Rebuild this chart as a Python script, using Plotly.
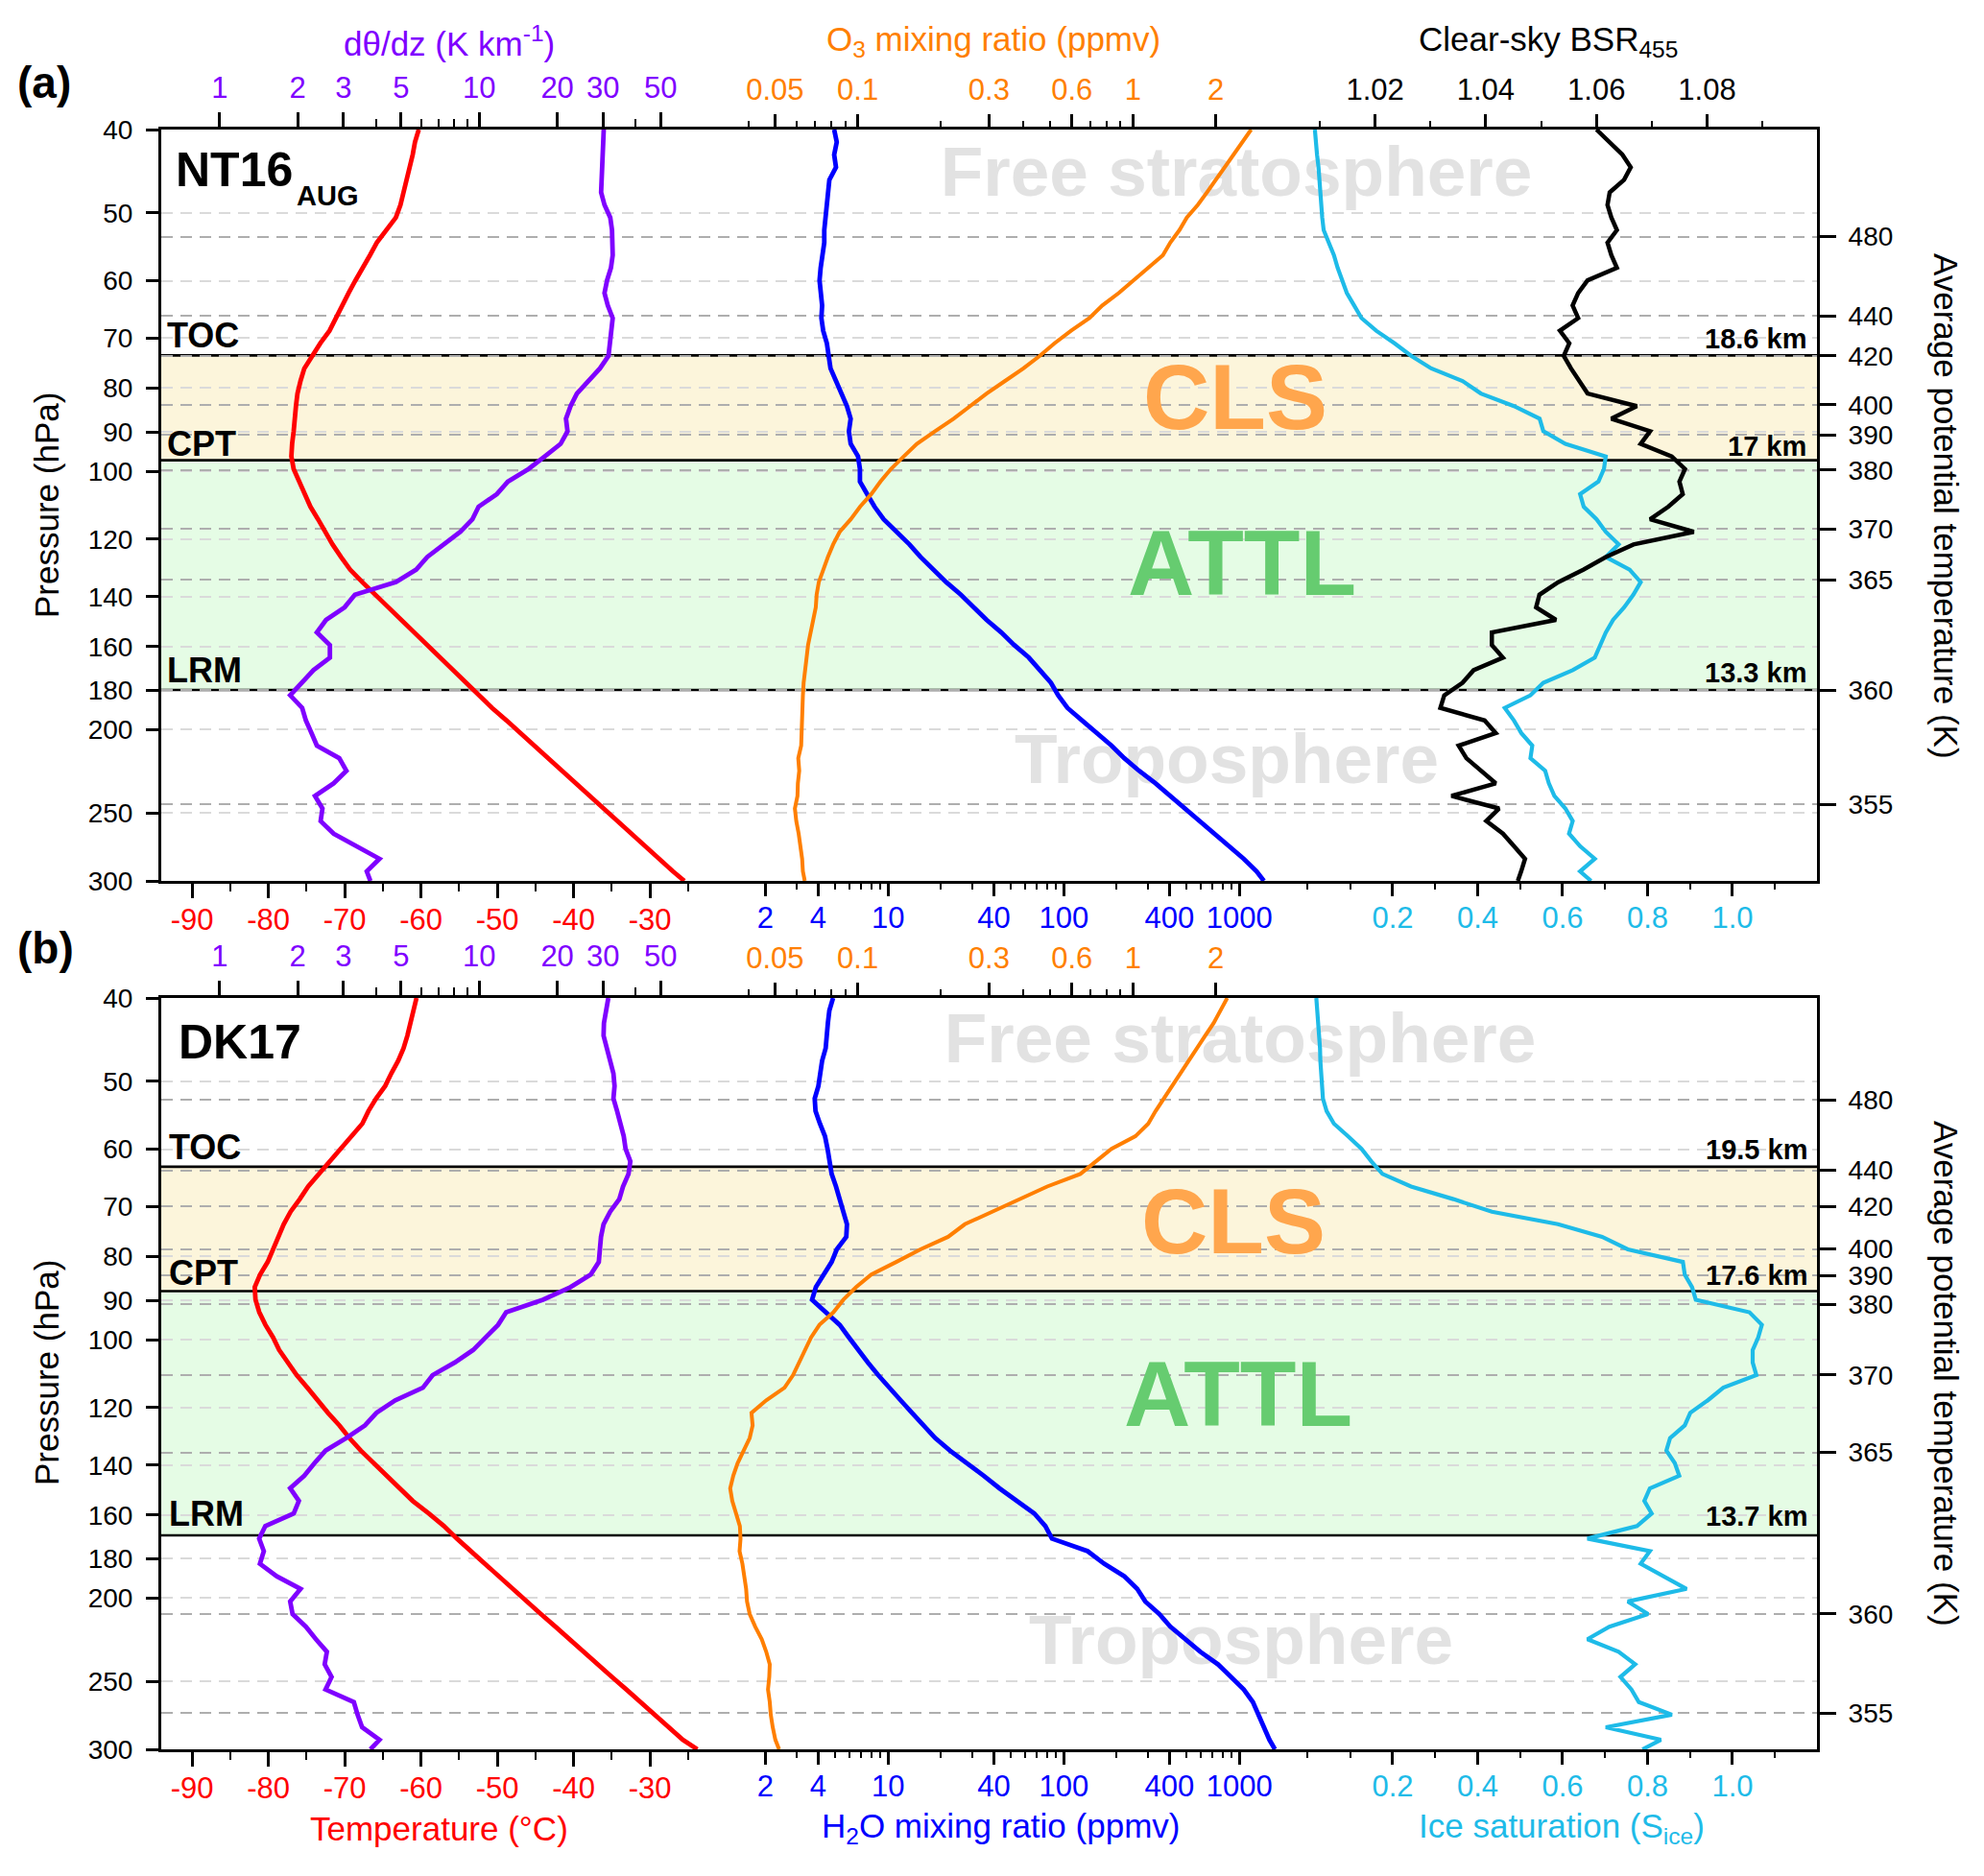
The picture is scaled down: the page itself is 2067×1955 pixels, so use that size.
import math
import plotly.graph_objects as go

FONT = "Liberation Sans, Arial, Helvetica, sans-serif"
NFONT = "Liberation Sans Narrow, Arial Narrow, Liberation Sans, Arial, sans-serif"

# ---------------- data ----------------
P_LEVELS = [40.00, 41.37, 42.79, 44.26, 45.77, 47.34, 48.96, 50.64, 52.38, 54.17,
            56.03, 57.95, 59.94, 62.00, 64.12, 66.32, 68.60, 70.95, 73.38, 75.90,
            78.50, 81.19, 83.98, 86.86, 89.84, 92.92, 96.10, 99.40, 102.81, 106.33,
            109.98, 113.75, 117.65, 121.69, 125.86, 130.18, 134.64, 139.26, 144.04, 148.98,
            154.09, 159.37, 164.84, 170.49, 176.34, 182.38, 188.64, 195.11, 201.80, 208.72,
            215.88, 223.28, 230.94, 238.86, 247.05, 255.52, 264.28, 273.35, 282.72, 292.42,
            300.0]

# panel (a) NT16_AUG
TEMP_A = [-60.3, -60.8, -61.1, -61.5, -61.8, -62.2, -62.7, -63.3, -64.5, -65.8,
          -66.7, -67.7, -68.6, -69.5, -70.3, -71.2, -72.0, -73.2, -74.3, -75.3,
          -75.8, -76.2, -76.4, -76.5, -76.7, -76.9, -77.0, -76.7, -76.0, -75.3,
          -74.5, -73.5, -72.6, -71.6, -70.5, -69.3, -67.7, -66.0, -64.3, -62.6,
          -60.9, -59.2, -57.6, -55.9, -54.2, -52.5, -50.7, -48.8, -47.0, -45.2,
          -43.4, -41.6, -39.7, -37.9, -36.1, -34.3, -32.5, -30.6, -28.8, -27.0,
          -25.5]
DTHETA_A = [30.2, 30.0, 29.9, 29.9, 29.7, 29.5, 30.4, 32.0, 32.5, 32.7,
            32.7, 32.2, 31.1, 30.4, 31.3, 32.7, 32.4, 32.0, 31.5, 29.2,
            26.2, 23.8, 22.5, 21.6, 21.9, 20.6, 17.9, 15.5, 12.9, 11.7,
            9.95, 9.42, 8.46, 7.30, 6.31, 5.72, 4.78, 3.32, 3.03, 2.57,
            2.37, 2.66, 2.66, 2.30, 2.08, 1.87, 2.08, 2.15, 2.26, 2.37,
            2.89, 3.08, 2.75, 2.33, 2.49, 2.45, 2.75, 3.34, 4.13, 3.69,
            3.81]
H2O_A = [4.93, 5.10, 4.93, 5.05, 4.63, 4.54, 4.48, 4.41, 4.33, 4.33,
         4.21, 4.13, 4.07, 4.17, 4.21, 4.17, 4.27, 4.48, 4.59, 4.70,
         5.05, 5.43, 5.83, 6.12, 5.98, 6.12, 6.74, 6.91, 6.91, 7.60,
         8.37, 9.44, 11.18, 13.23, 15.29, 18.09, 21.41, 25.95, 30.72, 36.36,
         44.10, 52.19, 63.26, 73.08, 84.46, 92.99, 104.9, 127.2, 154.2, 186.9,
         221.2, 268.2, 333.2, 403.8, 489.7, 593.6, 719.6, 872.6, 1058, 1252,
         1378]
O3_A = [2.689, 2.497, 2.341, 2.167, 2.007, 1.859, 1.721, 1.570, 1.476, 1.367,
        1.285, 1.137, 1.005, 0.889, 0.774, 0.695, 0.596, 0.519, 0.459, 0.400,
        0.343, 0.294, 0.256, 0.223, 0.191, 0.164, 0.147, 0.132, 0.121, 0.112,
        0.102, 0.0943, 0.0860, 0.0814, 0.0779, 0.0749, 0.0722, 0.0709, 0.0704, 0.0689,
        0.0673, 0.0660, 0.0652, 0.0642, 0.0636, 0.0632, 0.0630, 0.0628, 0.0626, 0.0623,
        0.0608, 0.0613, 0.0606, 0.0604, 0.0591, 0.0598, 0.0610, 0.0619, 0.0628, 0.0632,
        0.0642]
SICE_A = [0.0167, 0.0184, 0.0218, 0.0253, 0.0270, 0.0288, 0.0314, 0.0340, 0.0374, 0.0487,
          0.0616, 0.0703, 0.0807, 0.0919, 0.1092, 0.1265, 0.1611, 0.2043, 0.2432, 0.2908,
          0.3643, 0.4076, 0.4854, 0.5459, 0.5546, 0.6065, 0.7016, 0.6973, 0.6843, 0.6411,
          0.6497, 0.6800, 0.7016, 0.7319, 0.7016, 0.7578, 0.7838, 0.7665, 0.7448, 0.7189,
          0.7016, 0.6886, 0.6757, 0.6238, 0.5546, 0.5243, 0.4638, 0.4854, 0.5027, 0.5286,
          0.5243, 0.5589, 0.5676, 0.5805, 0.6065, 0.6238, 0.6151, 0.6411, 0.6757, 0.6411,
          0.6670]
BSR_A = [1.0600, 1.0624, 1.0647, 1.0662, 1.0650, 1.0624, 1.0620, 1.0627, 1.0637, 1.0620,
         1.0627, 1.0637, 1.0584, 1.0567, 1.0557, 1.0567, 1.0534, 1.0551, 1.0541, 1.0554,
         1.0570, 1.0584, 1.0673, 1.0627, 1.0697, 1.0680, 1.0736, 1.0760, 1.0750, 1.0756,
         1.0730, 1.0697, 1.0776, 1.0667, 1.0617, 1.0577, 1.0531, 1.0497, 1.0491, 1.0527,
         1.0411, 1.0411, 1.0431, 1.0378, 1.0358, 1.0325, 1.0318, 1.0398, 1.0418, 1.0351,
         1.0365, 1.0391, 1.0418, 1.0338, 1.0424, 1.0401, 1.0431, 1.0451, 1.0471, 1.0464,
         1.0458]

# panel (b) DK17
TEMP_B = [-60.6, -61.0, -61.3, -61.8, -62.3, -63.0, -63.9, -64.7, -65.9, -66.9,
          -67.7, -69.1, -70.5, -71.9, -73.4, -74.8, -75.9, -77.1, -78.0, -78.7,
          -79.4, -80.1, -81.1, -81.8, -81.7, -81.2, -80.4, -79.4, -78.6, -77.5,
          -76.3, -74.9, -73.6, -72.2, -70.7, -69.4, -67.9, -66.2, -64.5, -62.8,
          -61.1, -59.0, -57.0, -55.3, -53.5, -51.6, -49.8, -48.0, -46.1, -44.3,
          -42.4, -40.6, -38.7, -36.8, -35.0, -33.1, -31.3, -29.4, -27.5, -25.7,
          -23.8]
DTHETA_B = [31.45, 30.84, 30.25, 30.15, 31.14, 32.18, 32.91, 33.24, 32.91, 34.00,
            35.13, 36.06, 36.65, 38.24, 37.62, 35.83, 34.67, 31.97, 30.15, 29.47,
            29.18, 28.90, 26.90, 22.48, 17.61, 12.71, 11.83, 10.56, 9.48, 8.05,
            6.62, 6.07, 4.75, 4.02, 3.63, 3.08, 2.56, 2.32, 2.12, 1.87,
            2.02, 1.93, 1.50, 1.42, 1.48, 1.43, 1.66, 2.05, 1.87, 1.91,
            2.15, 2.35, 2.59, 2.54, 2.70, 2.56, 3.29, 3.40, 3.54, 4.13,
            3.81]
H2O_B = [4.86, 4.63, 4.54, 4.48, 4.41, 4.21, 4.13, 4.01, 3.82, 3.86,
         4.09, 4.37, 4.52, 4.63, 4.77, 5.05, 5.30, 5.48, 5.83, 5.78,
         5.10, 4.77, 4.33, 3.88, 3.69, 4.41, 5.30, 5.98, 6.74, 7.68,
         8.78, 10.25, 11.78, 13.68, 16.04, 18.53, 22.47, 28.30, 34.99, 43.03,
         54.74, 68.00, 78.57, 85.66, 136.7, 169.8, 221.2, 261.8, 291.1, 349.6,
         403.8, 489.7, 599.4, 755.2, 893.9, 1058, 1193, 1282, 1378, 1482,
         1593]
O3_B = [2.201, 2.089, 1.965, 1.830, 1.706, 1.594, 1.490, 1.380, 1.285, 1.209,
        1.137, 1.021, 0.836, 0.732, 0.644, 0.488, 0.388, 0.303, 0.245, 0.213,
        0.169, 0.138, 0.112, 0.0987, 0.0887, 0.0816, 0.0726, 0.0677, 0.0642, 0.0613,
        0.0582, 0.0542, 0.0465, 0.0411, 0.0415, 0.0405, 0.0384, 0.0366, 0.0353, 0.0344,
        0.0350, 0.0361, 0.0373, 0.0375, 0.0372, 0.0381, 0.0387, 0.0393, 0.0396, 0.0405,
        0.0424, 0.0448, 0.0465, 0.0479, 0.0477, 0.0472, 0.0479, 0.0483, 0.0491, 0.0502,
        0.0518]
SICE_B = [0.0201, 0.0227, 0.0253, 0.0270, 0.0288, 0.0296, 0.0314, 0.0331, 0.0357, 0.0443,
          0.0616, 0.0945, 0.1265, 0.1498, 0.1758, 0.2432, 0.3427, 0.4335, 0.5892, 0.6930,
          0.7535, 0.8832, 0.8876, 0.9048, 0.9135, 1.0400, 1.0691, 1.0605, 1.0475, 1.0475,
          1.0562, 0.9783, 0.9420, 0.9005, 0.8876, 0.8530, 0.8443, 0.8642, 0.8746, 0.8054,
          0.7924, 0.8097, 0.7751, 0.6584, 0.8054, 0.7838, 0.8400, 0.8919, 0.7535, 0.8011,
          0.7102, 0.6584, 0.7319, 0.7708, 0.7362, 0.7621, 0.7794, 0.8573, 0.7016, 0.8313,
          0.7881]

# right axis: average potential temperature ticks (K) and their pressures
THETA_LABELS = ["480", "440", "420", "400", "390", "380", "370", "365", "360", "355"]
THETA_P_A = [53.3, 65.9, 73.4, 83.7, 90.7, 99.7, 116.8, 133.8, 179.8, 244.2]
THETA_P_B = [52.6, 63.5, 70.0, 78.4, 84.2, 91.0, 109.9, 135.3, 208.7, 272.3]

# layer boundaries
LAYER_NAMES = ["TOC", "CPT", "LRM"]
LAYER_P_A = [73.3, 97.1, 179.8]
LAYER_KM_A = ["18.6 km", "17 km", "13.3 km"]
LAYER_P_B = [62.9, 87.8, 169.0]
LAYER_KM_B = ["19.5 km", "17.6 km", "13.7 km"]

# ticks
P_TICKS = [40, 50, 60, 70, 80, 90, 100, 120, 140, 160, 180, 200, 250, 300]
TEMP_TICKS = [-90, -80, -70, -60, -50, -40, -30]
TEMP_MINOR = [-85, -75, -65, -55, -45, -35, -25]
DTH_TICKS = [1, 2, 3, 5, 10, 20, 30, 50]
DTH_MINOR = [4, 6, 7, 8, 9, 40]
H2O_TICKS = [2, 4, 10, 40, 100, 400, 1000]
H2O_MINOR = [3, 5, 6, 7, 8, 9, 20, 30, 50, 60, 70, 80, 90, 200, 300, 500, 600, 700, 800, 900]
O3_TICKS = [0.05, 0.1, 0.3, 0.6, 1, 2]
O3_MINOR = [0.04, 0.06, 0.07, 0.08, 0.09, 0.2, 0.4, 0.5, 0.7, 0.8, 0.9]
SICE_TICKS = [0.2, 0.4, 0.6, 0.8, 1.0]
SICE_MINOR = [0.0, 0.1, 0.3, 0.5, 0.7, 0.9, 1.1]
BSR_TICKS = [1.02, 1.04, 1.06, 1.08]
BSR_MINOR = [1.01, 1.03, 1.05, 1.07, 1.09]

# axis ranges (log axes in log10 units)
TEMP_RANGE = [-94.05, 122.93]
DTH_RANGE = [-0.2249, 6.1546]
O3_RANGE = [-3.5309, 2.4858]
BSR_RANGE = [0.80064, 1.09986]
H2O_RANGE = [-3.138, 6.288]
SICE_RANGE = [-2.6994, 1.1989]
P_RANGE = [math.log10(300), math.log10(40)]

# colours
RED = "#FF0000"
PURPLE = "#7F00FF"
ORANGE = "#FF7F00"
BLUE = "#0000FF"
CYAN = "#1EBBE8"
BLACK = "#000000"

# ---------------- geometry (screen pixels) ----------------
OFF = 8                      # page body margin in the browser
SW, SH = 2067, 1955
W, H = SW - OFF, SH - OFF
L0, R0, T0, B0 = 168, 1893, 135, 1823
PW, PH = R0 - L0, B0 - T0


def xp(px):
    return (px - L0) / PW


def yp(py):
    return (B0 - py) / PH


DOM_A = [yp(918), yp(135)]
DOM_B = [yp(1823), yp(1040)]


def tx(px):
    return TEMP_RANGE[0] + (px - L0) / PW * (TEMP_RANGE[1] - TEMP_RANGE[0])


TICK_SIZE = 31
TITLE_SIZE = 35


def xaxis(rng, side, tv, minor, color, anchor, overlaying=None, log=False,
          showline=False, fmt=None):
    d = dict(range=rng, side=side, anchor=anchor, domain=[0, 1],
             tickmode="array", tickvals=tv,
             ticktext=[fmt(v) if fmt else str(v) for v in tv],
             ticks="outside", ticklen=15, tickwidth=2.5, tickcolor="black",
             tickfont=dict(family=NFONT, size=TICK_SIZE, color=color),
             ticklabelstandoff=3 if side == "top" else -4,
             showgrid=False, zeroline=False,
             showline=showline, linecolor="black", linewidth=3,
             minor=dict(tickmode="array", tickvals=minor, ticks="outside",
                        ticklen=8, tickwidth=2, tickcolor="black", showgrid=False))
    if log:
        d["type"] = "log"
    if overlaying:
        d["overlaying"] = overlaying
    return d


def yaxis_left(dom, anchor):
    return dict(domain=dom, anchor=anchor, type="log", range=P_RANGE,
                tickmode="array", tickvals=P_TICKS, ticktext=[str(v) for v in P_TICKS],
                ticks="outside", ticklen=13, tickwidth=2.5, tickcolor="black",
                tickfont=dict(family=FONT, size=28, color="black"),
                ticklabelstandoff=8,
                showgrid=True, gridcolor="#DADADA", griddash="12px,8px", gridwidth=1.8,
                zeroline=False, showline=True, linecolor="black", linewidth=3)


def yaxis_right(over, anchor, pvals):
    return dict(overlaying=over, anchor=anchor, side="right", type="log", range=P_RANGE,
                tickmode="array", tickvals=pvals, ticktext=THETA_LABELS,
                ticks="outside", ticklen=17, tickwidth=2.5, tickcolor="black",
                tickfont=dict(family=FONT, size=28, color="black"),
                ticklabelstandoff=7,
                showgrid=True, gridcolor="#AEAEAE", griddash="12px,8px", gridwidth=1.8,
                zeroline=False, showline=True, linecolor="black", linewidth=3)


def fmt_s(v):
    return f"{v:.1f}"


def fmt_b(v):
    return f"{v:.2f}"


fig = go.Figure()


def text_trace(xa, ya, px, p, txt, size, color):
    fig.add_trace(go.Scatter(x=[tx(px)], y=[p], xaxis=xa, yaxis=ya, mode="text",
                             text=[f"<b>{txt}</b>"], textposition="middle center",
                             textfont=dict(family=FONT, size=size, color=color),
                             showlegend=False, hoverinfo="skip", cliponaxis=False))


GRAYTXT = "#E2E2E2"
CLS_C = "#FFA64D"
ATTL_C = "#66CC70"

# background labels (drawn first, below curves)
text_trace("x", "y", 1288, 45.6, "Free stratosphere", 73, GRAYTXT)
text_trace("x", "y", 1287, 84.0, "CLS", 96, CLS_C)
text_trace("x", "y", 1294, 131.1, "ATTL", 96, ATTL_C)
text_trace("x", "y", 1278, 220.3, "Troposphere", 73, GRAYTXT)
text_trace("x7", "y3", 1292, 45.3, "Free stratosphere", 73, GRAYTXT)
text_trace("x7", "y3", 1285, 74.5, "CLS", 96, CLS_C)
text_trace("x7", "y3", 1290, 118.6, "ATTL", 96, ATTL_C)
text_trace("x7", "y3", 1293, 227.6, "Troposphere", 73, GRAYTXT)


def line(xv, xa, ya, color, width=4.8):
    fig.add_trace(go.Scatter(x=xv, y=P_LEVELS, xaxis=xa, yaxis=ya, mode="lines",
                             line=dict(color=color, width=width),
                             showlegend=False, hoverinfo="skip"))


# panel (a)
line(TEMP_A, "x", "y", RED)
line(DTHETA_A, "x2", "y", PURPLE)
line(H2O_A, "x3", "y", BLUE)
line(O3_A, "x4", "y", ORANGE, 4.0)
line(SICE_A, "x5", "y", CYAN, 4.2)
line(BSR_A, "x6", "y", BLACK, 4.5)
fig.add_trace(go.Scatter(x=[None], y=[None], xaxis="x", yaxis="y2", showlegend=False))
# panel (b)
line(TEMP_B, "x7", "y3", RED)
line(DTHETA_B, "x8", "y3", PURPLE)
line(H2O_B, "x9", "y3", BLUE)
line(O3_B, "x10", "y3", ORANGE, 4.0)
line(SICE_B, "x11", "y3", CYAN, 4.2)
fig.add_trace(go.Scatter(x=[None], y=[None], xaxis="x7", yaxis="y4", showlegend=False))

layout = dict(
    width=W, height=H, autosize=False,
    margin=dict(l=L0 - OFF, r=W - (R0 - OFF), t=T0 - OFF, b=H - (B0 - OFF), pad=0),
    paper_bgcolor="white", plot_bgcolor="white",
    showlegend=False,
    font=dict(family=FONT, size=28, color="black"),
    yaxis=yaxis_left(DOM_A, "x"),
    yaxis2=yaxis_right("y", "x", THETA_P_A),
    yaxis3=yaxis_left(DOM_B, "x7"),
    yaxis4=yaxis_right("y3", "x7", THETA_P_B),
    xaxis=xaxis(TEMP_RANGE, "bottom", TEMP_TICKS, TEMP_MINOR, RED, "y", showline=True),
    xaxis2=xaxis(DTH_RANGE, "top", DTH_TICKS, DTH_MINOR, PURPLE, "y", "x", log=True, showline=True),
    xaxis3=xaxis(H2O_RANGE, "bottom", H2O_TICKS, H2O_MINOR, BLUE, "y", "x", log=True),
    xaxis4=xaxis(O3_RANGE, "top", O3_TICKS, O3_MINOR, ORANGE, "y", "x", log=True),
    xaxis5=xaxis(SICE_RANGE, "bottom", SICE_TICKS, SICE_MINOR, CYAN, "y", "x", fmt=fmt_s),
    xaxis6=xaxis(BSR_RANGE, "top", BSR_TICKS, BSR_MINOR, BLACK, "y", "x", fmt=fmt_b),
    xaxis7=xaxis(TEMP_RANGE, "bottom", TEMP_TICKS, TEMP_MINOR, RED, "y3", showline=True),
    xaxis8=xaxis(DTH_RANGE, "top", DTH_TICKS, DTH_MINOR, PURPLE, "y3", "x7", log=True, showline=True),
    xaxis9=xaxis(H2O_RANGE, "bottom", H2O_TICKS, H2O_MINOR, BLUE, "y3", "x7", log=True),
    xaxis10=xaxis(O3_RANGE, "top", O3_TICKS, O3_MINOR, ORANGE, "y3", "x7", log=True),
    xaxis11=xaxis(SICE_RANGE, "bottom", SICE_TICKS, SICE_MINOR, CYAN, "y3", "x7", fmt=fmt_s),
)
fig.update_layout(**layout)

# bands and boundary lines
shapes = []
for yref, ps in (("y", LAYER_P_A), ("y3", LAYER_P_B)):
    shapes.append(dict(type="rect", xref="paper", x0=0, x1=1, yref=yref, y0=ps[0], y1=ps[1],
                       fillcolor="#FCF5DB", line=dict(width=0), layer="below"))
    shapes.append(dict(type="rect", xref="paper", x0=0, x1=1, yref=yref, y0=ps[1], y1=ps[2],
                       fillcolor="#E5FCE5", line=dict(width=0), layer="below"))
    for p in ps:
        shapes.append(dict(type="line", xref="paper", x0=0, x1=1, yref=yref, y0=p, y1=p,
                           line=dict(color="black", width=2.6), layer="between"))
fig.update_layout(shapes=shapes)

ann = []


def A(px, py, text, size, color="black", xanchor="center", bold=False, angle=0, family=FONT):
    ann.append(dict(x=xp(px), y=yp(py), xref="paper", yref="paper",
                    text=f"<b>{text}</b>" if bold else text,
                    showarrow=False, xanchor=xanchor, yanchor="middle", textangle=angle,
                    font=dict(family=family, size=size, color=color)))


# panel labels
A(46, 86, "(a)", 46, bold=True)
A(47, 988, "(b)", 46, bold=True)
A(181, 177.5, "NT16", 50, xanchor="left", bold=True)
A(307, 203.5, "AUG", 29, xanchor="left", bold=True)
A(184, 1085.5, "DK17", 50, xanchor="left", bold=True)

# layer labels
for name, cy in zip(LAYER_NAMES, [350, 462, 698]):
    A(172, cy, name, 36, xanchor="left", bold=True)
for name, cy in zip(LAYER_NAMES, [1195, 1326, 1577]):
    A(174, cy, name, 36, xanchor="left", bold=True)
for km, cy in zip(LAYER_KM_A, [352.5, 465.5, 701]):
    A(1884, cy, km, 29, xanchor="right", bold=True)
for km, cy in zip(LAYER_KM_B, [1198, 1328.5, 1579.5]):
    A(1885, cy, km, 29, xanchor="right", bold=True)

# axis titles
A(468, 43, "dθ/dz (K km<sup>-1</sup>)", TITLE_SIZE, PURPLE, family=NFONT)
A(1035, 43, "O<sub>3</sub> mixing ratio (ppmv)", TITLE_SIZE, ORANGE, family=NFONT)
A(1613, 43, "Clear-sky BSR<sub>455</sub>", TITLE_SIZE, BLACK, family=NFONT)
A(457, 1905, "Temperature (°C)", TITLE_SIZE, RED, family=NFONT)
A(1042, 1905, "H<sub>2</sub>O mixing ratio (ppmv)", TITLE_SIZE, BLUE, family=NFONT)
A(1627, 1905, "Ice saturation (S<sub>ice</sub>)", TITLE_SIZE, CYAN, family=NFONT)
A(48, 527, "Pressure (hPa)", TITLE_SIZE, angle=-90, family=NFONT)
A(48, 1431, "Pressure (hPa)", TITLE_SIZE, angle=-90, family=NFONT)
A(2028, 527, "Average potential temperature (K)", TITLE_SIZE, angle=90, family=NFONT)
A(2028, 1431, "Average potential temperature (K)", TITLE_SIZE, angle=90, family=NFONT)

fig.update_layout(annotations=ann)

fig.write_html("out.html")
